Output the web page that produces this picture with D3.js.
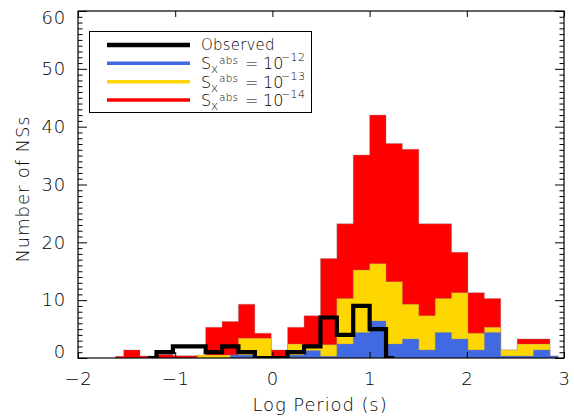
<!DOCTYPE html>
<html>
<head>
<meta charset="utf-8">
<script src="https://cdn.jsdelivr.net/npm/d3@7"></script>
<style>
  html, body { margin: 0; padding: 0; background: #fff; }
  svg { display: block; }
  text { font-family: "DejaVu Sans", "Liberation Sans", Arial, sans-serif; font-weight: 200; fill: #000; }
</style>
</head>
<body>
<svg id="chart" width="574" height="416"></svg>
<script>
// ---------------- data ----------------
// bin centres (log period, s)
const binCenters = [-1.952, -1.783, -1.614, -1.446, -1.277, -1.108, -0.940, -0.771, -0.602, -0.434,
                    -0.265, -0.096, 0.072, 0.241, 0.410, 0.579, 0.747, 0.916, 1.085, 1.253,
                    1.422, 1.591, 1.759, 1.928, 2.097, 2.265, 2.434, 2.603, 2.771, 2.940];
// S_x^abs = 1e-14 (red), bins 2..29
const redStart = 2;
const redValues = [0.3, 1.4, 0.35, 0.6, 0.4, 0.4, 5.3, 6.3, 9.3, 4.3, 1.4, 5.3, 7.3, 17.2, 23.2,
                   35.1, 42.0, 37.1, 36.1, 23.2, 23.2, 18.3, 11.3, 10.3, 1.4, 3.3, 3.3, 0];
// S_x^abs = 1e-13 (yellow), bins 7..29
const yellowStart = 7;
const yellowValues = [0.5, 0.5, 0.5, 3.4, 3.4, 0.3, 2.4, 1.8, 2.3, 10.3, 15.2, 16.3, 13.2, 9.3,
                      7.3, 10.3, 11.3, 4.3, 5.3, 1.4, 2.4, 2.4, 0.35];
// S_x^abs = 1e-12 (blue), bins 9..29
const blueStart = 9;
const blueValues = [0.5, 0.5, 0.2, 0.2, 0.5, 1.3, 0.3, 2.4, 4.4, 6.4, 2.4, 3.3, 1.4, 4.4, 3.3,
                    1.4, 4.4, 0.35, 0.35, 1.4, 0.35];
// Observed (black), bins 4..19
const obsStart = 4;
const obsValues = [0, 1, 2, 2, 1, 2, 1, 0, 0, 1, 2, 7, 4, 9, 5, 0];

const xTicks = [-2, -1, 0, 1, 2, 3];
const yTicks = [0, 10, 20, 30, 40, 50, 60];
const xLabel = "Log Period (s)";
const yLabel = "Number of NSs";
const legendNames = ["Observed", "S", "S", "S"];
const legendExponents = [null, -12, -13, -14];
const colors = { obs: "#000000", blue: "#4169E1", yellow: "#FFD700", red: "#FF0000" };

// ---------------- layout ----------------
const svg = d3.select("#chart");
const L = 78, R = 564, T = 11, B = 358;
const x = d3.scaleLinear().domain([-2, 3]).range([L, R]);
const y = d3.scaleLinear().domain([0, 60]).range([B, T]);

function series(start, vals) {
  return vals.map((v, i) => ({ x: binCenters[start + i], y: v }));
}

svg.append("clipPath").attr("id", "clip")
  .append("rect").attr("x", L).attr("y", T).attr("width", R - L).attr("height", B - T);

const plot = svg.append("g").attr("clip-path", "url(#clip)");

const area = d3.area().curve(d3.curveStep)
  .x(d => x(d.x)).y0(y(0)).y1(d => y(d.y));
const line = d3.line().curve(d3.curveStep)
  .x(d => x(d.x)).y(d => y(d.y));

[[redStart, redValues, colors.red], [yellowStart, yellowValues, colors.yellow], [blueStart, blueValues, colors.blue]]
  .forEach(([s, v, c]) => {
    plot.append("path").datum(series(s, v))
      .attr("d", area).attr("fill", c)
      .attr("stroke", "#8a8a8a").attr("stroke-width", 0.6).attr("stroke-opacity", 0.6);
  });

plot.append("path").datum(series(obsStart, obsValues))
  .attr("d", line).attr("fill", "none")
  .attr("stroke", colors.obs).attr("stroke-width", 4.2)
  .attr("stroke-linejoin", "miter").attr("stroke-linecap", "butt");

// ---------------- axes ----------------
const axes = svg.append("g");
const fontSize = 18;

// bottom & top x axes
const xb = d3.axisBottom(x).tickValues(xTicks).tickSize(-6).tickPadding(14)
  .tickFormat(d => d < 0 ? "\u2212" + Math.abs(d) : d);
const gxb = axes.append("g").attr("transform", `translate(0,${B})`).call(xb);
const xt = d3.axisTop(x).tickValues(xTicks).tickSize(-6).tickFormat("");
axes.append("g").attr("transform", `translate(0,${T})`).call(xt);

// left & right y axes (major + minor)
const minorVals = d3.range(0, 61, 1).filter(v => v % 10 !== 0);
const yl = d3.axisLeft(y).tickValues(yTicks).tickSize(-9).tickPadding(12);
const gyl = axes.append("g").attr("transform", `translate(${L},0)`).call(yl);
const ylm = d3.axisLeft(y).tickValues(minorVals).tickSize(-4.5).tickFormat("");
axes.append("g").attr("transform", `translate(${L},0)`).call(ylm);
const yr = d3.axisRight(y).tickValues(yTicks).tickSize(-9).tickFormat("");
axes.append("g").attr("transform", `translate(${R},0)`).call(yr);
const yrm = d3.axisRight(y).tickValues(minorVals).tickSize(-4.5).tickFormat("");
axes.append("g").attr("transform", `translate(${R},0)`).call(yrm);

axes.selectAll(".domain").remove();
axes.selectAll(".tick line").attr("stroke", "#000").attr("stroke-width", 1);
axes.selectAll("text").attr("font-size", fontSize)
  .attr("font-family", "DejaVu Sans, Liberation Sans, sans-serif").attr("letter-spacing", 0.8);
gxb.selectAll("text").attr("dy", "0.71em");
// end labels of the y axis sit inside the frame, as in the original
gyl.selectAll(".tick text").attr("dy", d => d === 0 ? "-0.02em" : d === 60 ? "0.72em" : "0.32em");

// frame
svg.append("rect").attr("x", L).attr("y", T).attr("width", R - L).attr("height", B - T)
  .attr("fill", "none").attr("stroke", "#000").attr("stroke-width", 1.2);

// axis titles
svg.append("text").attr("x", 320).attr("y", 411).attr("text-anchor", "middle")
  .attr("font-size", fontSize).attr("letter-spacing", 0.9).text(xLabel);
svg.append("text").attr("transform", "translate(29,189) rotate(-90)").attr("text-anchor", "middle")
  .attr("font-size", fontSize).attr("letter-spacing", 0.9).text(yLabel);

// ---------------- legend ----------------
const lg = svg.append("g");
lg.append("rect").attr("x", 89.5).attr("y", 31.5).attr("width", 222).attr("height", 81)
  .attr("fill", "#fff").attr("stroke", "#000").attr("stroke-width", 1);
const legColors = [colors.obs, colors.blue, colors.yellow, colors.red];
const legY = [45, 63.3, 81.7, 100];
legColors.forEach((c, i) => {
  lg.append("line").attr("x1", 107).attr("x2", 190).attr("y1", legY[i]).attr("y2", legY[i])
    .attr("stroke", c).attr("stroke-width", i === 0 ? 4.5 : 3.5);
  const by = legY[i] + 6;
  if (legendExponents[i] === null) {
    lg.append("text").attr("x", 201).attr("y", by - 1).attr("font-size", 15).attr("letter-spacing", 0.2)
      .text(legendNames[i]);
  } else {
    const t = lg.append("text").attr("x", 201).attr("y", by).attr("font-size", 16);
    t.append("tspan").text(legendNames[i]);
    t.append("tspan").attr("x", 211).attr("dy", 4).attr("font-size", 12).text("x");
    t.append("tspan").attr("x", 219).attr("dy", -9.5).attr("font-size", 10.5).attr("letter-spacing", 0.2).text("abs");
    t.append("tspan").attr("x", 245).attr("dy", 5.5).text("=");
    t.append("tspan").attr("x", 263).text("10");
    t.append("tspan").attr("x", 281).attr("dy", -8).attr("font-size", 11).attr("letter-spacing", 0.4)
      .text("\u2212" + Math.abs(legendExponents[i]));
  }
});
</script>
</body>
</html>
